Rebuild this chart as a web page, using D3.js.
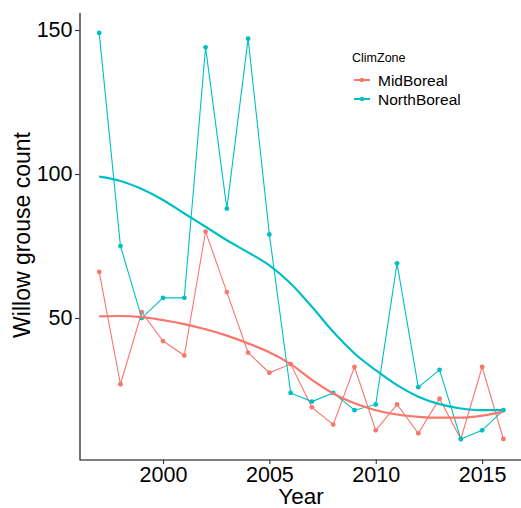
<!DOCTYPE html>
<html><head><meta charset="utf-8">
<script src="https://cdn.jsdelivr.net/npm/d3@7"></script>
<style>body{margin:0;background:#fff}svg{display:block}text{font-family:"Liberation Sans",Arial,sans-serif}</style>
</head><body><svg id="c" width="521" height="508"></svg>
<script>
const years = d3.range(1997, 2017);
const midBoreal   = [66,27,52,42,37,80,59,38,31,34,19,13,33,11,20,10,22,8,33,8];
const northBoreal = [149,75,50,57,57,144,88,147,79,24,21,24,18,20,69,26,32,8,11,18];
const midSmooth   = [50.6,50.7,50.3,49.3,47.9,46.1,43.9,41.2,38.1,34.0,28.5,23.8,20.4,18.0,16.5,15.7,15.4,15.4,16.1,17.5];
const northSmooth = [99.1,97.6,94.8,91.0,86.3,81.7,77.0,72.8,68.3,62.0,53.9,45.2,37.7,31.9,26.7,22.7,20.1,18.6,18.0,18.0];
const xTicks = [2000,2005,2010,2015];
const yTicks = [50,100,150];
const seriesNames = ["MidBoreal","NorthBoreal"];
const colors = ["#F8766D","#00BFC4"];

const svg = d3.select("#c");
const x = d3.scaleLinear().domain([1996.05, 2016.95]).range([79, 523.6]);
const y = d3.scaleLinear().domain([0.95, 156.05]).range([459.3, 12.6]);

const series = [
  {name: seriesNames[0], vals: midBoreal, smooth: midSmooth, color: colors[0]},
  {name: seriesNames[1], vals: northBoreal, smooth: northSmooth, color: colors[1]}
];

const line = d3.line().x(d => x(d[0])).y(d => y(d[1]));
const sline = d3.line().x(d => x(d[0])).y(d => y(d[1])).curve(d3.curveMonotoneX);

series.forEach(s => {
  const pts = years.map((yr, i) => [yr, s.vals[i]]);
  svg.append("path").attr("d", line(pts)).attr("fill","none").attr("stroke", s.color).attr("stroke-width",1.1);
  svg.selectAll(null).data(pts).enter().append("circle")
    .attr("cx", d => x(d[0])).attr("cy", d => y(d[1])).attr("r", 2.4).attr("fill", s.color);
});
series.forEach(s => {
  const pts = years.map((yr, i) => [yr, s.smooth[i]]);
  svg.append("path").attr("d", sline(pts)).attr("fill","none").attr("stroke", s.color).attr("stroke-width",2.2);
});

// axes
const xAxis = svg.append("g").attr("transform","translate(0,459.5)")
  .call(d3.axisBottom(x).tickValues(xTicks).tickFormat(d3.format("d")).tickSizeInner(4.5).tickSizeOuter(0).tickPadding(2.5));
const yAxis = svg.append("g").attr("transform","translate(79.5,0)")
  .call(d3.axisLeft(y).tickValues(yTicks).tickSizeInner(4.5).tickSizeOuter(0).tickPadding(2.5));
[xAxis, yAxis].forEach(g => {
  g.select(".domain").attr("stroke","#000").attr("stroke-width",1.1);
  g.selectAll(".tick line").attr("stroke","#333").attr("stroke-width",1.1);
  g.selectAll(".tick text").attr("fill","#000").style("font-size","21.5px").style("font-family","Liberation Sans, Arial, sans-serif");
});

svg.append("text").attr("x", 301).attr("y", 504).attr("text-anchor","middle")
  .style("font-size","22.5px").attr("fill","#000").text("Year");
svg.append("text").attr("transform","translate(30,235) rotate(-90)").attr("text-anchor","middle")
  .style("font-size","23px").attr("fill","#000").text("Willow grouse count");

// legend
const lg = svg.append("g");
lg.append("text").attr("x", 352).attr("y", 62).style("font-size","12.5px").attr("fill","#000").text("ClimZone");
series.forEach((s, i) => {
  const cy = 80 + i*19;
  lg.append("line").attr("x1",354).attr("x2",370).attr("y1",cy).attr("y2",cy).attr("stroke",s.color).attr("stroke-width",2);
  lg.append("circle").attr("cx",362).attr("cy",cy).attr("r",2.2).attr("fill",s.color);
  lg.append("text").attr("x",378).attr("y",cy+5.5).style("font-size","15.5px").attr("fill","#000").text(s.name);
});
</script></body></html>
